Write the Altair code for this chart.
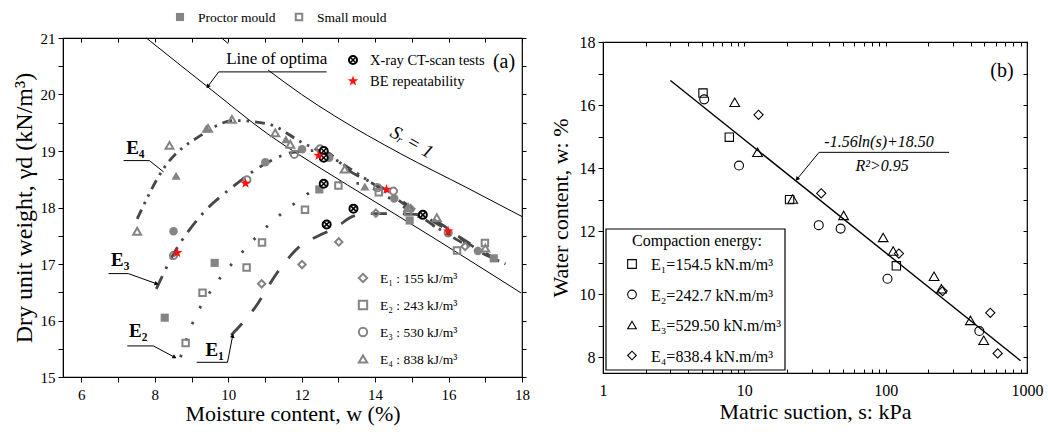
import altair as alt
import pandas as pd

# ---------------- Panel (a): compaction data ----------------
E1_W = [10.91, 12.01, 13.01, 14.02, 14.97, 16.45]
E1_G = [16.65, 16.99, 17.39, 17.90, 17.98, 17.31]
E2P_W = [8.27, 9.63, 12.48, 14.94, 17.23]
E2P_G = [16.05, 17.02, 18.32, 17.77, 17.10]
E2S_W = [8.84, 9.30, 10.50, 10.92, 12.09, 13.00, 14.10, 14.90, 16.23, 16.99]
E2S_G = [15.60, 16.49, 16.94, 17.38, 17.96, 18.39, 18.27, 17.92, 17.24, 17.37]
E3P_W = [8.51, 11.01, 12.01, 12.75, 14.52, 16.80]
E3P_G = [17.58, 18.80, 19.03, 18.88, 18.16, 17.23]
E3S_W = [8.51, 10.51, 11.80, 12.50, 14.07, 14.50, 15.99]
E3S_G = [17.15, 18.49, 18.94, 19.04, 18.35, 18.29, 17.55]
E4P_W = [8.58, 9.40, 11.57, 13.72]
E4P_G = [18.56, 19.40, 19.21, 18.37]
E4S_W = [7.52, 8.40, 9.45, 10.10, 11.28, 11.69, 13.17, 14.90, 15.68, 17.00]
E4S_G = [17.58, 19.10, 19.40, 19.56, 19.32, 19.12, 18.68, 18.00, 17.82, 17.28]
XRAY_W = [12.60, 12.60, 12.60, 12.68, 13.41, 15.30]
XRAY_G = [19.00, 18.88, 18.42, 17.70, 17.98, 17.87]
BE_W = [8.61, 10.47, 12.46, 14.31, 15.99]
BE_G = [17.20, 18.43, 18.92, 18.32, 17.58]

# fitted compaction curves
CE1_W = [10.08, 10.71, 11.35, 11.98, 12.46, 12.89, 13.43, 13.90, 14.50, 15.10, 15.60, 16.45, 17.06]
CE1_G = [15.74, 16.21, 16.86, 17.33, 17.50, 17.63, 17.85, 17.89, 17.89, 17.88, 17.78, 17.40, 17.15]
CE2_W = [8.70, 9.04, 9.63, 10.26, 11.08, 11.80, 12.48, 13.00, 13.60, 14.25, 15.16, 16.06, 17.00]
CE2_G = [15.35, 15.97, 16.62, 17.12, 17.68, 18.07, 18.36, 18.45, 18.42, 18.22, 17.85, 17.50, 17.20]
CE3_W = [8.04, 8.54, 9.26, 10.17, 11.08, 11.80, 12.53, 13.34, 14.25, 15.16, 16.06, 17.24]
CE3_G = [16.56, 17.21, 17.86, 18.39, 18.80, 18.98, 19.01, 18.63, 18.33, 17.92, 17.57, 17.10]
CE4_W = [7.52, 8.24, 9.26, 10.17, 11.08, 11.98, 12.89, 13.80, 14.70, 15.60, 16.50, 17.55]
CE4_G = [17.80, 18.69, 19.28, 19.54, 19.48, 19.16, 18.86, 18.48, 18.10, 17.68, 17.33, 17.00]

# line of optima and saturation line (S_r = 1)
OPT_W = [7.77, 9.45, 11.08, 12.50, 14.00, 15.50, 17.97]
OPT_G = [21.00, 20.13, 19.30, 18.70, 18.10, 17.50, 16.49]
SR_A_W = [9.82, 10.00]
SR_A_G = [21.00, 20.90]
SR_B_W = [11.09, 12.00, 12.90, 14.70, 16.50, 18.00]
SR_B_G = [20.43, 20.00, 19.62, 18.95, 18.35, 17.84]

E_LABELS_A = ["E₁ : 155 kJ/m³", "E₂  : 243 kJ/m³", "E₃  : 530 kJ/m³", "E₄  : 838 kJ/m³"]
MOULD_LABELS = ["Proctor mould", "Small mould"]
TEST_LABELS = ["X-ray CT-scan tests", "BE repeatability"]

# ---------------- Panel (b): suction data ----------------
B1_S = [5.1, 7.83, 20.9, 119]
B1_W = [16.38, 14.98, 13.00, 10.90]
B2_S = [5.2, 9.17, 33.6, 48, 103, 460]
B2_W = [16.18, 14.08, 12.19, 12.08, 10.49, 8.83]
B3_S = [8.55, 12.4, 22, 50.4, 96, 113, 220, 248, 398, 494]
B3_W = [16.09, 14.50, 13.02, 12.50, 11.80, 11.37, 10.57, 10.17, 9.17, 8.54]
B4_S = [12.6, 35, 124, 253, 550, 620]
B4_W = [15.69, 13.20, 11.29, 10.10, 9.41, 8.12]
FIT_S = [3, 900]
FIT_W = [16.78, 7.89]
E_LABELS_B = ["E₁=154.5 kN.m/m³", "E₂=242.7 kN.m/m³", "E₃=529.50 kN.m/m³", "E₄=838.4 kN.m/m³"]

# ---------------- styling ----------------
FONT = "Liberation Serif"
GRAY = "#848484"
DARK = "#474747"
RED = "#ff1010"
STAR = ("M0,-1L0.235,-0.324L0.951,-0.309L0.380,0.124L0.588,0.809L0,0.4"
        "L-0.588,0.809L-0.380,0.124L-0.951,-0.309L-0.235,-0.324Z")
XMARK = "M-0.62,-0.62L0.62,0.62M-0.62,0.62L0.62,-0.62"
W_A, H_A = 459, 339
W_B, H_B = 424, 331

XA = alt.Scale(domain=[5.5, 18], nice=False, zero=False)
YA = alt.Scale(domain=[15, 21], nice=False, zero=False)
XB = alt.Scale(type="log", domain=[1, 1000], nice=False)
YB = alt.Scale(domain=[7.5, 18], nice=False, zero=False)
ONE = pd.DataFrame({"k": [0]})


def xy(scx, scy, xf="x", yf="y"):
    return dict(x=alt.X(f"{xf}:Q", scale=scx, axis=None), y=alt.Y(f"{yf}:Q", scale=scy, axis=None))


def frame(x, y):
    return pd.DataFrame({"x": x, "y": y})


def ptext(label, px, py, **kw):
    return alt.Chart(pd.DataFrame({"t": [label]})).mark_text(color="black", **kw).encode(
        x=alt.value(px), y=alt.value(py), text="t:N")


def psym(px, py, **kw):
    return alt.Chart(ONE).mark_point(opacity=1, **kw).encode(x=alt.value(px), y=alt.value(py))


# ================= Panel (a) =================
layers_a = []
ax_df = frame([6.0], [15.0])
layers_a.append(alt.Chart(ax_df).mark_point(opacity=0).encode(
    x=alt.X("x:Q", scale=XA, axis=alt.Axis(
        orient="bottom", values=list(range(6, 19)), labelOverlap=False, labelFlush=False,
        labelExpr="datum.value % 2 == 0 ? format(datum.value, 'd') : ''",
        tickSize=5, labelPadding=5, labelFontSize=15,
        title="Moisture content, w (%)", titleFontSize=22, titlePadding=1)),
    y=alt.Y("y:Q", scale=YA, axis=alt.Axis(
        orient="left", values=[15 + 0.5 * i for i in range(13)], labelOverlap=False, labelFlush=False,
        labelExpr="datum.value % 1 == 0 ? format(datum.value, 'd') : ''",
        tickSize=5, labelPadding=3, labelFontSize=15,
        title="Dry unit weight, γd (kN/m³)", titleFontSize=24, titlePadding=4)),
))
layers_a.append(alt.Chart(ax_df).mark_point(opacity=0).encode(
    x=alt.X("x:Q", scale=XA, axis=alt.Axis(
        orient="top", values=list(range(6, 19)), labels=False, domain=False,
        tickSize=4, offset=-4, title=None)),
    y=alt.Y("y:Q", scale=YA, axis=alt.Axis(
        orient="right", values=[15 + 0.5 * i for i in range(13)], labels=False, domain=False,
        tickSize=4, title=None)),
))

for lw, lg in [(OPT_W, OPT_G), (SR_A_W, SR_A_G), (SR_B_W, SR_B_G)]:
    d = frame(lw, lg)
    d["i"] = range(len(d))
    layers_a.append(alt.Chart(d).mark_line(color="black", strokeWidth=1, interpolate="monotone")
                    .encode(order="i:Q", **xy(XA, YA)))

for cw, cg, dash in [(CE1_W, CE1_G, [16, 16]), (CE2_W, CE2_G, [2.5, 15]),
                     (CE3_W, CE3_G, [14, 8, 2.5, 8]), (CE4_W, CE4_G, [10, 6, 2.5, 6, 2.5, 6])]:
    d = frame(cw, cg)
    d["i"] = range(len(d))
    layers_a.append(alt.Chart(d).mark_line(color=DARK, strokeWidth=2.8, strokeDash=dash,
                                           interpolate="monotone")
                    .encode(order="i:Q", **xy(XA, YA)))

open_sets = [(E1_W, E1_G, "diamond", 55), (E2S_W, E2S_G, "square", 42),
             (E3S_W, E3S_G, "circle", 50), (E4S_W, E4S_G, "triangle-up", 62)]
fill_sets = [(E2P_W, E2P_G, "square", 66), (E3P_W, E3P_G, "circle", 72), (E4P_W, E4P_G, "triangle-up", 85)]
for pw, pg, shp, sz in fill_sets:
    layers_a.append(alt.Chart(frame(pw, pg)).mark_point(shape=shp, filled=True, color=GRAY, size=sz, opacity=1)
                    .encode(**xy(XA, YA)))
for pw, pg, shp, sz in open_sets:
    layers_a.append(alt.Chart(frame(pw, pg)).mark_point(shape=shp, filled=False, color=GRAY, size=sz,
                                                        strokeWidth=2, opacity=1)
                    .encode(**xy(XA, YA)))
layers_a.append(alt.Chart(frame(XRAY_W, XRAY_G)).mark_point(shape="circle", filled=True, fill="white",
                                                            stroke="black", size=64, strokeWidth=2, opacity=1)
                .encode(**xy(XA, YA)))
layers_a.append(alt.Chart(frame(XRAY_W, XRAY_G)).mark_point(shape=XMARK, filled=False, color="black",
                                                            size=64, strokeWidth=1.6, opacity=1)
                .encode(**xy(XA, YA)))
layers_a.append(alt.Chart(frame(BE_W, BE_G)).mark_point(shape=STAR, filled=True, color=RED,
                                                        size=120, opacity=1)
                .encode(**xy(XA, YA)))

lead_a = pd.DataFrame({
    "x": [9.74, 9.74, 7.15, 7.85, 6.74, 7.28, 7.25, 7.96, 9.14, 9.98],
    "y": [20.40, 20.40, 18.83, 18.83, 16.83, 16.83, 15.55, 15.55, 15.26, 15.26],
    "x2": [12.68, 9.44, 7.85, 8.24, 7.28, 8.05, 7.96, 8.54, 9.98, 10.12],
    "y2": [20.40, 20.14, 18.83, 18.63, 16.83, 16.65, 15.55, 15.35, 15.26, 15.73],
})
layers_a.append(alt.Chart(lead_a).mark_rule(color="black", strokeWidth=1)
                .encode(x2="x2:Q", y2="y2:Q", **xy(XA, YA)))
heads_a = pd.DataFrame({"x": [9.44, 8.05, 8.54, 10.12], "y": [20.14, 16.65, 15.35, 15.73],
                        "a": [216, 110, 118, 10]})
layers_a.append(alt.Chart(heads_a).mark_point(shape="triangle-up", filled=True, color="black", size=22, opacity=1)
                .encode(angle=alt.Angle("a:Q", scale=None), **xy(XA, YA)))

lab_a = pd.DataFrame({"x": [7.47, 7.06, 7.55, 9.63], "y": [18.95, 16.97, 15.71, 15.38],
                      "t": ["E₄", "E₃", "E₂", "E₁"]})
layers_a.append(alt.Chart(lab_a).mark_text(fontSize=19, fontWeight="bold", baseline="alphabetic",
                                           align="center", color="black")
                .encode(text="t:N", **xy(XA, YA)))
layers_a.append(alt.Chart(pd.DataFrame({"x": [11.32], "y": [20.54], "t": ["Line of optima"]}))
                .mark_text(fontSize=17, baseline="alphabetic", align="center", color="black")
                .encode(text="t:N", **xy(XA, YA)))
layers_a.append(alt.Chart(pd.DataFrame({"x": [15.0], "y": [19.16], "t": ["Sᵣ = 1"]}))
                .mark_text(fontSize=19, fontStyle="italic", baseline="middle", align="center",
                           angle=30, color="black")
                .encode(text="t:N", **xy(XA, YA)))

# legends (pixel positions relative to the plot area)
layers_a.append(psym(117, -21, shape="square", filled=True, color=GRAY, size=66))
layers_a.append(psym(236, -21, shape="square", filled=False, color=GRAY, size=42, strokeWidth=2))
for lbl, px in zip(MOULD_LABELS, [135, 254]):
    layers_a.append(ptext(lbl, px, -16, fontSize=13.5, align="left", baseline="alphabetic"))
layers_a.append(psym(290, 22, shape="circle", filled=True, fill="white", stroke="black", size=64, strokeWidth=2))
layers_a.append(psym(290, 22, shape=XMARK, filled=False, color="black", size=64, strokeWidth=1.6))
layers_a.append(psym(290, 43, shape=STAR, filled=True, color=RED, size=120))
for lbl, py in zip(TEST_LABELS, [27, 48]):
    layers_a.append(ptext(lbl, 307, py, fontSize=14.5, align="left", baseline="alphabetic"))
layers_a.append(ptext("(a)", 441, 24, fontSize=20, align="center", baseline="middle"))
for i, (lbl, shp) in enumerate(zip(E_LABELS_A, ["diamond", "square", "circle", "triangle-up"])):
    py = 240 + 27 * i
    layers_a.append(psym(300, py, shape=shp, filled=False, color=GRAY, size=70, strokeWidth=2))
    layers_a.append(ptext(lbl, 317, py + 5, fontSize=13.5, align="left", baseline="alphabetic"))

panel_a = alt.layer(*layers_a).resolve_axis(x="independent", y="independent").properties(width=W_A, height=H_A)

# ================= Panel (b) =================
layers_b = []
LOG_T = [m * 10 ** k for k in range(3) for m in range(1, 10)] + [1000]
ax_b = frame([10.0], [10.0])
layers_b.append(alt.Chart(ax_b).mark_point(opacity=0).encode(
    x=alt.X("x:Q", scale=XB, axis=alt.Axis(
        orient="bottom", values=LOG_T, labelOverlap=False, labelFlush=False, domain=False,
        labelExpr="indexof([1, 10, 100, 1000], datum.value) >= 0 ? format(datum.value, 'd') : ''",
        tickSize=4, offset=-4, labelPadding=9, labelFontSize=16,
        title="Matric suction, s: kPa", titleFontSize=22, titlePadding=3)),
    y=alt.Y("y:Q", scale=YB, axis=alt.Axis(
        orient="left", values=list(range(8, 19)), labelOverlap=False, labelFlush=False,
        labelExpr="datum.value % 2 == 0 ? format(datum.value, 'd') : ''",
        tickSize=5, labelPadding=3, labelFontSize=16,
        title="Water content, w: %", titleFontSize=22, titlePadding=7)),
))
layers_b.append(alt.Chart(ax_b).mark_point(opacity=0).encode(
    x=alt.X("x:Q", scale=XB, axis=alt.Axis(
        orient="top", values=LOG_T, labels=False, domain=False, tickSize=4, offset=-4, title=None)),
    y=alt.Y("y:Q", scale=YB, axis=alt.Axis(
        orient="right", values=list(range(8, 19)), labels=False, domain=False, tickSize=4, offset=-4,
        title=None)),
))

layers_b.append(alt.Chart(frame(FIT_S, FIT_W)).mark_line(color="black", strokeWidth=1.4).encode(**xy(XB, YB)))
for bs, bw, shp, sz in [(B1_S, B1_W, "square", 70), (B2_S, B2_W, "circle", 80),
                        (B3_S, B3_W, "triangle-up", 95), (B4_S, B4_W, "diamond", 85)]:
    layers_b.append(alt.Chart(frame(bs, bw)).mark_point(shape=shp, filled=False, color="black", size=sz,
                                                        strokeWidth=1.1, opacity=1)
                    .encode(**xy(XB, YB)))

lead_b = pd.DataFrame({"x": [33.8, 33.8], "y": [14.50, 14.50], "x2": [281, 23.6], "y2": [14.50, 13.65]})
layers_b.append(alt.Chart(lead_b).mark_rule(color="black", strokeWidth=1)
                .encode(x2="x2:Q", y2="y2:Q", **xy(XB, YB)))
layers_b.append(alt.Chart(pd.DataFrame({"x": [23.6], "y": [13.65], "a": [219]}))
                .mark_point(shape="triangle-up", filled=True, color="black", size=22, opacity=1)
                .encode(angle=alt.Angle("a:Q", scale=None), **xy(XB, YB)))
layers_b.append(alt.Chart(pd.DataFrame({"x": [89.8, 94.4], "y": [14.66, 13.90],
                                        "t": ["-1.56ln(s)+18.50", "R²>0.95"]}))
                .mark_text(fontSize=16, fontStyle="italic", align="center", baseline="alphabetic", color="black")
                .encode(text="t:N", **xy(XB, YB)))
layers_b.append(ptext("(b)", 399, 29, fontSize=20, align="center", baseline="middle"))

layers_b.append(alt.Chart(ONE).mark_rect(fill="white", stroke="black", strokeWidth=1.2).encode(
    x=alt.value(3), x2=alt.value(182), y=alt.value(187), y2=alt.value(328)))
layers_b.append(ptext("Compaction energy:", 94, 204, fontSize=16, align="center", baseline="alphabetic"))
for i, (lbl, shp) in enumerate(zip(E_LABELS_B, ["square", "circle", "triangle-up", "diamond"])):
    py = 222 + 30.5 * i
    layers_b.append(psym(29, py, shape=shp, filled=False, color="black", size=75, strokeWidth=1.1))
    layers_b.append(ptext(lbl, 48, py + 6, fontSize=16, align="left", baseline="alphabetic"))

panel_b = alt.layer(*layers_b).resolve_axis(x="independent", y="independent").properties(width=W_B, height=H_B)

chart = alt.hconcat(panel_a, panel_b, spacing=81, bounds="flush", center=True).properties(
    padding={"left": 11, "top": 9, "right": 4, "bottom": 4}
).configure(font=FONT).configure_axis(
    labelFont=FONT, titleFont=FONT, labelColor="black", titleColor="black",
    domainColor="black", tickColor="black", titleFontWeight="normal", grid=False,
    domainWidth=1, tickWidth=1
).configure_view(stroke="black", strokeWidth=1.2)

chart.save("out.html", embed_options={"renderer": "svg", "actions": False})
